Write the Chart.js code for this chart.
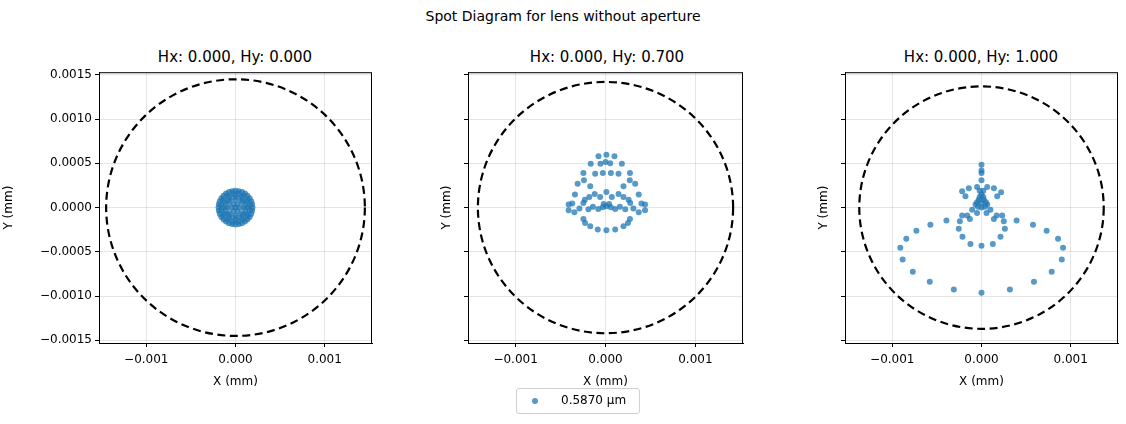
<!DOCTYPE html>
<html>
<head>
<meta charset="utf-8">
<script src="https://cdn.jsdelivr.net/npm/chart.js@4"></script>
<style>
  body { margin: 0; background: #fff; font-family: "DejaVu Sans", sans-serif; }
  #page { position: relative; width: 1126px; height: 424px; }
  canvas { position: absolute; }
  .titre { position: absolute; font-size: 15px; color: #000; white-space: nowrap; transform: translateX(-50%); }
  #legende { position: absolute; left: 516px; top: 388px; width: 124px; height: 26px; border: 1px solid #d0d0d0; border-radius: 3px; font-size: 12px; box-sizing: border-box; }
  #legende span.pt { position: absolute; left: 15px; top: 9px; width: 6px; height: 6px; border-radius: 50%; background: rgba(31,119,180,0.75); }
  #legende span.txt { position: absolute; left: 44px; top: 4px; }
</style>
</head>
<body>
<div id="page">
  <div class="titre" style="left:563px; top:8px; font-size:14px;">Spot Diagram for lens without aperture</div>
  <div class="titre" style="left:235px; top:48px;">Hx: 0.000, Hy: 0.000</div>
  <div class="titre" style="left:607px; top:48px;">Hx: 0.000, Hy: 0.700</div>
  <div class="titre" style="left:981px; top:48px;">Hx: 0.000, Hy: 1.000</div>
  <canvas id="g1" style="left:0px; top:62px;" width="380" height="327"></canvas>
  <canvas id="g2" style="left:438px; top:62px;" width="313" height="327"></canvas>
  <canvas id="g3" style="left:815px; top:62px;" width="311" height="327"></canvas>
  <div id="legende"><span class="pt"></span><span class="txt">0.5870 µm</span></div>
</div>
<script>
// Points des spots (unité 1e-4 mm) : [x, y]
const SPOT_1 = [
  [1.9,0],[1.76,0.73],[1.34,1.34],[0.73,1.76],[0,1.9],[-0.73,1.76],[-1.34,1.34],[-1.76,0.73],
  [-1.9,0],[-1.76,-0.73],[-1.34,-1.34],[-0.73,-1.76],[0,-1.9],[0.73,-1.76],[1.34,-1.34],[1.76,-0.73],
  [1.86,0.37],[1.58,1.06],[1.06,1.58],[0.37,1.86],[-0.37,1.86],[-1.06,1.58],[-1.58,1.06],[-1.86,0.37],
  [-1.86,-0.37],[-1.58,-1.06],[-1.06,-1.58],[-0.37,-1.86],[0.37,-1.86],[1.06,-1.58],[1.58,-1.06],[1.86,-0.37],
  [1.6,0.3],[1.35,0.9],[0.9,1.35],[0.3,1.6],[-0.3,1.6],[-0.9,1.35],[-1.35,0.9],[-1.6,0.3],
  [-1.6,-0.3],[-1.35,-0.9],[-0.9,-1.35],[-0.3,-1.6],[0.3,-1.6],[0.9,-1.35],[1.35,-0.9],[1.6,-0.3],
  [1.4,0],[1.21,0.7],[0.7,1.21],[0,1.4],[-0.7,1.21],[-1.21,0.7],[-1.4,0],[-1.21,-0.7],
  [-0.7,-1.21],[0,-1.4],[0.7,-1.21],[1.21,-0.7],
  [1.1,0.3],[0.8,0.8],[0.3,1.1],[-0.3,1.1],[-0.8,0.8],[-1.1,0.3],[-1.1,-0.3],[-0.8,-0.8],
  [-0.3,-1.1],[0.3,-1.1],[0.8,-0.8],[1.1,-0.3],
  [0.9,0],[0.64,0.64],[0,0.9],[-0.64,0.64],[-0.9,0],[-0.64,-0.64],[0,-0.9],[0.64,-0.64],
  [0.45,0],[0.22,0.39],[-0.22,0.39],[-0.45,0],[-0.22,-0.39],[0.22,-0.39],[0,0]
];
const SPOT_2 = [
  [0.1,5.98],[-0.78,5.8],[1.0,5.8],[-1.64,4.96],[1.82,4.96],[-0.56,4.96],[0,5.15],[0.52,5.0],
  [-2.46,3.9],[2.72,3.9],[-1.15,3.83],[-0.3,3.9],[0.6,3.9],[1.45,3.83],[-3.1,2.7],[3.3,2.7],
  [-2.4,3.1],[2.7,3.1],[-1.7,2.4],[2.0,2.4],[-3.4,1.47],[3.7,1.47],[-3.7,0.45],[4.0,0.45],
  [-4.1,0.34],[4.4,0.34],[-2.3,0.9],[-1.2,1.54],[0.1,1.77],[1.45,1.54],[2.57,0.9],
  [-2.46,0.53],[2.75,0.53],[-1.9,-0.2],[-0.8,-0.15],[0.1,0.15],[1.08,-0.15],[2.2,-0.2],
  [-1.4,0.1],[-0.3,0.05],[0.6,0.05],[1.6,0.1],[-2.9,-0.1],[3.1,-0.1],
  [-0.6,1.2],[0.7,1.2],[-1.8,1.2],[2.0,1.2],[-0.2,0.4],[0.4,0.4],
  [-4.1,-0.3],[4.4,-0.3],[-3.46,-0.53],[3.7,-0.53],[-2.46,-1.28],[2.72,-1.28],
  [-1.7,-2.1],[2.0,-2.1],[-0.86,-2.48],[0.1,-2.56],[1.08,-2.48],[-2.27,-1.73],[2.5,-1.73]
];
const SPOT_3 = [
  [0,4.85],[0,4.2],[0,3.1],[0,3.9],[-1.42,2.2],[1.39,2.2],[-2.17,1.84],[2.2,1.73],
  [-1.8,1.28],[1.76,1.28],[-0.5,2.33],[0.64,2.33],[-0.3,0.9],[0.26,0.9],[0,0.53],
  [-0.67,0.34],[0.64,0.34],[-1.05,-0.23],[1.0,-0.23],[0,0],[-0.5,-0.6],[0.56,-0.6],
  [0,1.5],[-0.2,1.9],[0.2,1.9],[-0.4,0.1],[0.4,0.1],[-0.2,1.2],[0.2,1.2],[-0.5,0.6],[0.5,0.6],
  [-2.17,-0.9],[2.32,-0.9],[-1.3,-1.28],[1.39,-1.28],[-2.43,-1.54],[2.5,-1.54],
  [-1.6,-0.9],[1.7,-0.9],[-2.55,-2.4],[2.62,-2.4],[-2.13,-3.3],[2.13,-3.3],
  [-1.24,-4.1],[1.27,-4.1],[0,-4.3],
  [-3.93,-1.47],[3.93,-1.47],[-5.73,-1.95],[5.77,-1.95],[-7.3,-2.63],[7.3,-2.63],
  [-8.43,-3.53],[8.58,-3.53],[-9.1,-4.55],[9.14,-4.55],[-8.84,-5.86],[9.0,-5.86],
  [-7.7,-7.26],[7.87,-7.26],[-5.8,-8.38],[5.88,-8.38],[-3.1,-9.25],[3.18,-9.25],[0,-9.62]
];
// Rayon du cercle en pointillés (mm)
const RAYONS = [0.00145, 0.00142, 0.00137];
const TICKS_X = [-0.001, 0, 0.001];
const TICKS_Y = [-0.0015, -0.001, -0.0005, 0, 0.0005, 0.001, 0.0015];
const LIMITE = 0.00153;

const COULEUR_POINT = 'rgba(31,119,180,0.75)';
const POLICE = { family: 'DejaVu Sans', size: 12 };

function enMoins(s) { return s.replace('-', '\u2212'); }

// Cercle de référence tracé via les échelles, puis cadre complet
const pluginCercle = {
  id: 'cercle',
  afterDatasetsDraw(chart, args, opts) {
    const ctx = chart.ctx;
    const sx = chart.scales.x, sy = chart.scales.y;
    const cx = sx.getPixelForValue(0), cy = sy.getPixelForValue(0);
    const rx = Math.abs(sx.getPixelForValue(opts.rayon) - cx);
    const ry = Math.abs(sy.getPixelForValue(opts.rayon) - cy);
    ctx.save();
    ctx.strokeStyle = '#000';
    ctx.lineWidth = 2.2;
    ctx.setLineDash([8, 4.5]);
    ctx.beginPath();
    ctx.ellipse(cx, cy, rx, ry, 0, 0, Math.PI * 2);
    ctx.stroke();
    ctx.setLineDash([]);
    ctx.lineWidth = 1;
    const a = chart.chartArea;
    ctx.strokeRect(a.left + 0.5, a.top + 0.5, a.right - a.left - 1, a.bottom - a.top);
    ctx.restore();
  }
};

function creerGraphique(id, points, rayon, largeurY, afficherTicksY) {
  new Chart(document.getElementById(id), {
    type: 'scatter',
    data: {
      datasets: [{
        data: points.map(p => ({ x: p[0] * 1e-4, y: p[1] * 1e-4 })),
        backgroundColor: COULEUR_POINT,
        borderWidth: 0,
        pointRadius: 3
      }]
    },
    options: {
      responsive: false,
      animation: false,
      layout: { padding: { top: 10, right: 8, left: 0, bottom: 0 } },
      plugins: { legend: { display: false }, tooltip: { enabled: false }, cercle: { rayon: rayon } },
      scales: {
        x: {
          min: -LIMITE, max: LIMITE,
          afterBuildTicks: s => { s.ticks = TICKS_X.map(v => ({ value: v })); },
          afterFit: s => { s.height = 46; },
          ticks: { color: '#000', font: POLICE, maxRotation: 0, padding: 6, callback: v => enMoins(v.toFixed(3)) },
          grid: { color: 'rgba(0,0,0,0.1)', tickColor: '#000', tickLength: 4 },
          border: { color: '#000' },
          title: { display: true, text: 'X (mm)', color: '#000', font: POLICE, padding: 0 }
        },
        y: {
          min: -LIMITE, max: LIMITE,
          afterBuildTicks: s => { s.ticks = TICKS_Y.map(v => ({ value: v })); },
          afterFit: s => { s.width = largeurY; },
          ticks: { display: true, color: afficherTicksY ? '#000' : 'rgba(0,0,0,0)', font: POLICE,
                   callback: v => afficherTicksY ? enMoins(v.toFixed(4)) : '' },
          grid: { color: 'rgba(0,0,0,0.1)', tickColor: '#000', tickLength: 4 },
          border: { color: '#000' },
          title: { display: true, text: 'Y (mm)', color: '#000', font: POLICE, padding: 2 }
        }
      }
    },
    plugins: [pluginCercle]
  });
}

creerGraphique('g1', SPOT_1, RAYONS[0], 99, true);
creerGraphique('g2', SPOT_2, RAYONS[1], 30, false);
creerGraphique('g3', SPOT_3, RAYONS[2], 30, false);
</script>
</body>
</html>
